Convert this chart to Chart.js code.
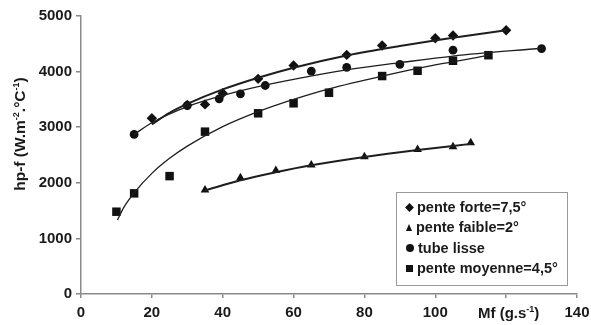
<!DOCTYPE html>
<html>
<head>
<meta charset="utf-8">
<script src="https://cdn.jsdelivr.net/npm/chart.js@4/dist/chart.umd.min.js"></script>
<style>
  html, body { margin: 0; padding: 0; background: #fff; }
  #wrap { position: relative; width: 591px; height: 325px; font-family: "Liberation Sans", Arial, sans-serif; color: #1a1a1a; }
  canvas { position: absolute; left: 0; top: 0; }
  #ytitle { position: absolute; left: 20px; top: 134px; width: 220px; text-align: center; font-weight: bold; font-size: 15.5px;
            transform: translate(-50%, -50%) rotate(-90deg); white-space: nowrap; }
  #xtitle { position: absolute; left: 478px; top: 304px; font-weight: bold; font-size: 15px; white-space: nowrap; }
  sup { font-size: 9px; vertical-align: 6px; line-height: 0; }
  #legend { position: absolute; left: 396px; top: 192px; width: 172px; height: 94px; border: 1px solid #999; box-sizing: border-box;
            font-weight: bold; font-size: 14.5px; padding-top: 4px; }
  .row { height: 20.4px; line-height: 20.4px; padding-left: 9px; white-space: nowrap; }
  .m { display: inline-block; width: 7px; height: 7px; background: #111; margin-right: 4px; vertical-align: 1px; }
  .dia { transform: rotate(45deg) scale(0.9); }
  .cir { border-radius: 50%; width: 8px; height: 8px; }
  .tri { width: 0; height: 0; background: none; border-left: 3.5px solid transparent; border-right: 3.5px solid transparent; border-bottom: 7px solid #111; }
</style>
</head>
<body>
<div id="wrap">
  <canvas id="c" width="591" height="325"></canvas>
  <div id="ytitle">hp-f (W.m<sup>-2</sup>.°C<sup>-1</sup>)</div>
  <div id="xtitle">Mf (g.s<sup>-1</sup>)</div>
  <div id="legend">
    <div class="row"><span class="m dia"></span>pente forte=7,5°</div>
    <div class="row"><span class="m tri"></span>pente faible=2°</div>
    <div class="row"><span class="m cir"></span>tube lisse</div>
    <div class="row"><span class="m"></span>pente moyenne=4,5°</div>
  </div>
</div>
<script>
// Measured points
const forteX = [20, 30, 35, 40, 50, 60, 75, 85, 100, 105, 120];
const forteY = [3160, 3400, 3410, 3610, 3870, 4110, 4300, 4470, 4600, 4650, 4745];
const faibleX = [35, 45, 55, 65, 80, 95, 105, 110];
const faibleY = [1870, 2090, 2220, 2320, 2470, 2600, 2650, 2720];
const lisseX = [15, 30, 39, 45, 52, 65, 75, 90, 105, 130];
const lisseY = [2870, 3390, 3510, 3600, 3750, 4010, 4075, 4130, 4385, 4415];
const moyX = [10, 15, 25, 35, 50, 60, 70, 85, 95, 105, 115];
const moyY = [1480, 1810, 2120, 2920, 3250, 3430, 3620, 3920, 4015, 4195, 4295];

// Trend curves
const forteTX = [20, 25, 30, 40, 50, 60, 75, 90, 105, 120];
const forteTY = [3050, 3260, 3420, 3680, 3890, 4070, 4290, 4460, 4610, 4745];
const faibleTX = [35, 45, 55, 65, 80, 95, 110];
const faibleTY = [1860, 2045, 2190, 2315, 2465, 2590, 2700];
const lisseTX = [15, 20, 30, 40, 50, 60, 75, 90, 105, 130];
const lisseTY = [2870, 3080, 3370, 3570, 3730, 3860, 4030, 4160, 4280, 4420];
const moyTX = [10.3, 12, 15, 20, 25, 30, 40, 50, 60, 70, 85, 100, 115];
const moyTY = [1330, 1550, 1820, 2170, 2440, 2660, 3010, 3280, 3500, 3690, 3920, 4120, 4290];

const xTicks = [0, 20, 40, 60, 80, 100, 120, 140];
const yTicks = [0, 1000, 2000, 3000, 4000, 5000];

const pts = (xs, ys) => xs.map((x, i) => ({x: x, y: ys[i]}));

function pointSet(xs, ys, style, r) {
  return { data: pts(xs, ys), showLine: false, pointStyle: style, pointRadius: r, pointHoverRadius: r,
           backgroundColor: '#111', borderColor: '#111', borderWidth: 0 };
}
function lineSet(xs, ys, w) {
  return { data: pts(xs, ys), showLine: true, pointRadius: 0, borderColor: '#1e1e1e', borderWidth: w,
           tension: 0.4, cubicInterpolationMode: 'monotone', fill: false };
}

const tickFont = { family: '"Liberation Sans", Arial, sans-serif', size: 15, weight: 'bold' };

new Chart(document.getElementById('c'), {
  type: 'scatter',
  data: {
    datasets: [
      lineSet(forteTX, forteTY, 2),
      lineSet(faibleTX, faibleTY, 2),
      lineSet(lisseTX, lisseTY, 1.3),
      lineSet(moyTX, moyTY, 1.3),
      pointSet(forteX, forteY, 'rectRot', 5.2),
      pointSet(faibleX, faibleY, 'triangle', 5),
      pointSet(lisseX, lisseY, 'circle', 4.4),
      pointSet(moyX, moyY, 'rect', 6)
    ]
  },
  options: {
    responsive: false,
    animation: false,
    layout: { padding: { top: 16, right: 14, left: 0, bottom: 0 } },
    plugins: { legend: { display: false }, tooltip: { enabled: false } },
    scales: {
      x: {
        type: 'linear', min: 0, max: 140,
        afterBuildTicks: s => { s.ticks = xTicks.map(v => ({value: v})); },
        afterFit: s => { s.height = 31; s.paddingLeft = 0; s.paddingRight = 0; },
        grid: { display: true, drawOnChartArea: false, drawTicks: true, tickLength: 4, color: '#8a8a8a', lineWidth: 1.5 },
        border: { color: '#8a8a8a', width: 1.5 },
        ticks: { font: tickFont, color: '#1a1a1a', padding: 6, maxRotation: 0,
                 callback: v => (v === 120 ? '' : String(v)) }
      },
      y: {
        type: 'linear', min: 0, max: 5000,
        afterBuildTicks: s => { s.ticks = yTicks.map(v => ({value: v})); },
        afterFit: s => { s.width = 81; s.paddingTop = 0; s.paddingBottom = 0; },
        grid: { display: true, drawOnChartArea: false, drawTicks: true, tickLength: 5, color: '#8a8a8a', lineWidth: 1.5 },
        border: { color: '#8a8a8a', width: 1.5 },
        ticks: { font: tickFont, color: '#1a1a1a', padding: 4, callback: v => String(v) }
      }
    }
  }
});
</script>
</body>
</html>
